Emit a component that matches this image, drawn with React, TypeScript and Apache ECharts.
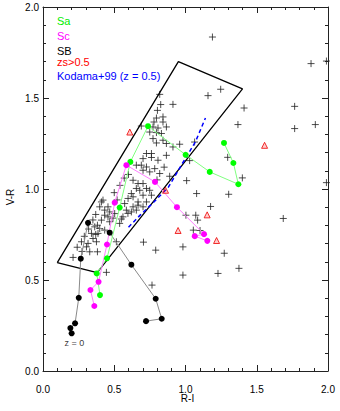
import React, { useEffect, useRef } from "react";
import * as echarts from "echarts";

// Field galaxies (black crosses), [R-I, V-R]
const crosses: [number, number][] = [
  [1.189, 1.835], [1.881, 1.689], [1.989, 1.703], [0.912, 1.465], [1.158, 1.513], [1.247, 1.548],
  [1.411, 1.445], [1.766, 1.454], [1.368, 1.354], [1.766, 1.332], [1.911, 1.354], [1.064, 1.258],
  [1.029, 1.156], [1.296, 1.174], [1.399, 1.061], [1.989, 1.035], [1.078, 0.975], [1.303, 0.971],
  [1.176, 0.904], [1.072, 0.856], [1.003, 0.856], [1.686, 0.838], [1.055, 0.774], [1.102, 0.772],
  [1.085, 0.829], [1.008, 1.046], [0.982, 0.682], [1.272, 0.647], [1.375, 0.564], [0.982, 0.527],
  [1.228, 0.536], [0.791, 0.664], [0.705, 0.708], [0.765, 0.472], [0.445, 0.542], [0.211, 0.624],
  [0.959, 1.246], [0.912, 1.231],
  [0.819, 1.52], [0.826, 1.464], [0.803, 1.432], [0.796, 1.39], [0.842, 1.396], [0.779, 1.368],
  [0.842, 1.368], [0.69, 1.346], [0.772, 1.341], [0.807, 1.335], [0.866, 1.341], [0.749, 1.313],
  [0.796, 1.31], [0.831, 1.305], [0.772, 1.277], [0.842, 1.268], [0.796, 1.253], [0.866, 1.25],
  [0.726, 1.195], [0.761, 1.195], [0.866, 1.185], [0.702, 1.167], [0.761, 1.173], [0.807, 1.158],
  [0.655, 1.131], [0.69, 1.131], [0.726, 1.121], [0.702, 1.103], [0.749, 1.094], [0.784, 1.112],
  [0.819, 1.085], [0.889, 1.07], [0.632, 1.048], [0.667, 1.03], [0.702, 1.03], [0.655, 1.003],
  [0.679, 0.993], [0.62, 0.975], [0.702, 0.966], [0.726, 1.003], [0.749, 0.993], [0.597, 0.948],
  [0.632, 0.957], [0.667, 0.929], [0.726, 0.929], [0.761, 0.966], [0.421, 0.939], [0.398, 0.902],
  [0.456, 0.902], [0.468, 0.874], [0.503, 0.865], [0.561, 0.847], [0.456, 0.847], [0.585, 0.884],
  [0.632, 0.902], [0.62, 0.874], [0.702, 0.902], [0.41, 0.929], [0.573, 0.92], [0.667, 0.911],
  [0.433, 0.884], [0.596, 0.866], [0.655, 0.884], [0.433, 0.856], [0.491, 0.84], [0.55, 0.835],
  [0.41, 0.829], [0.468, 0.82], [0.538, 0.811], [0.363, 0.792], [0.398, 0.783], [0.433, 0.774],
  [0.34, 0.756], [0.386, 0.756], [0.351, 0.728], [0.316, 0.701], [0.375, 0.71], [0.305, 0.682],
  [0.274, 0.657], [0.328, 0.655], [0.382, 0.655], [0.37, 0.75], [0.515, 0.71], [0.382, 0.801],
  [0.24, 0.68], [0.27, 0.71], [0.29, 0.74], [0.32, 0.78], [0.35, 0.83], [0.37, 0.86],
  [0.5, 0.98], [0.54, 1.02], [0.57, 1.06], [0.52, 0.94], [0.6, 1.08], [0.8, 1.05], [0.85, 1.12],
];

const selectionBox: [number, number][] = [
  [0.1, 0.595], [0.95, 1.7], [1.4, 1.55], [0.38, 0.54], [0.1, 0.595],
];

const kodama99: [number, number][] = [
  [0.6, 0.79], [0.68, 0.855], [0.78, 0.93], [0.88, 1.01], [0.97, 1.13], [1.07, 1.26], [1.14, 1.39],
];

const sbTrack: [number, number][] = [
  [0.201, 0.207], [0.192, 0.236], [0.225, 0.262], [0.251, 0.402], [0.265, 0.617], [0.316, 0.814],
  [0.468, 0.76], [0.62, 0.584], [0.791, 0.397], [0.833, 0.287], [0.723, 0.274],
];

const saTrack: [number, number][] = [
  [0.4, 0.417], [0.377, 0.536], [0.449, 0.619], [0.538, 0.898], [0.613, 1.149], [0.737, 1.345],
  [1.001, 1.188], [1.17, 1.094], [1.371, 1.026], [1.336, 1.143], [1.27, 1.253],
];

const scTrack: [number, number][] = [
  [0.36, 0.357], [0.333, 0.445], [0.39, 0.49], [0.449, 0.695], [0.503, 0.925], [0.585, 1.131],
  [0.786, 1.039], [0.94, 0.9], [1.13, 0.752], [1.065, 0.741], [1.153, 0.715],
];

const highZ: [number, number][] = [
  [0.609, 1.313], [1.555, 1.24], [0.86, 0.993], [1.152, 0.858], [0.948, 0.772], [1.218, 0.717],
];

const zLabelPos: [number, number][] = [[0.22, 0.155]];

const legendItems = [
  { text: "Sa", color: "#00ee00", y: 21 },
  { text: "Sc", color: "#ff00ff", y: 36 },
  { text: "SB", color: "#000000", y: 50.5 },
  { text: "zs>0.5", color: "#ff0000", y: 61.5 },
  { text: "Kodama+99 (z = 0.5)", color: "#0000ff", y: 75.5 },
];

const FONT = "Liberation Sans, Arial, Helvetica, sans-serif";

function makeAxis(position: string, showLabel: boolean) {
  return {
    type: "value",
    position,
    min: 0,
    max: 2,
    interval: 0.5,
    axisLine: { show: true, onZero: false, lineStyle: { color: "#222", width: 1 } },
    axisTick: { show: true, inside: true, length: 6, lineStyle: { color: "#222", width: 1 } },
    minorTick: { show: true, splitNumber: 5, length: 3, lineStyle: { color: "#222", width: 1 } },
    splitLine: { show: false },
    minorSplitLine: { show: false },
    axisLabel: {
      show: showLabel,
      formatter: (v: number) => v.toFixed(1),
      fontSize: 10,
      color: "#000",
      fontFamily: FONT,
      margin: position === "bottom" ? 13 : 4,
    },
  };
}

export default function App() {
  const ref = useRef<HTMLDivElement>(null);
  useEffect(() => {
    if (!ref.current) return;
    const chart = echarts.init(ref.current, undefined, { renderer: "svg" });
    const option: any = {
      animation: false,
      backgroundColor: "#fff",
      grid: { left: 43, right: 12, top: 7, bottom: 40 },
      xAxis: [makeAxis("bottom", true), makeAxis("top", false)],
      yAxis: [makeAxis("left", true), makeAxis("right", false)],
      graphic: [
        ...legendItems.map((it) => ({
          type: "text",
          style: {
            x: 57,
            y: it.y,
            text: it.text,
            fill: it.color,
            font: `11px ${FONT}`,
            verticalAlign: "middle",
          },
        })),
        {
          type: "text",
          style: { x: 187.5, y: 398.5, text: "R-I", fill: "#000", font: `10px ${FONT}`, align: "center", verticalAlign: "middle" },
        },
        {
          type: "text",
          x: 10,
          y: 197,
          rotation: Math.PI / 2,
          style: { x: 0, y: 0, text: "V-R", fill: "#000", font: `10px ${FONT}`, align: "center", verticalAlign: "middle" },
        },
      ],
      series: [
        {
          type: "scatter",
          data: crosses,
          symbol: "path://M0,5L10,5M5,0L5,10",
          symbolSize: 7,
          itemStyle: { color: "rgba(0,0,0,0)", borderColor: "#222", borderWidth: 1 },
          z: 2,
        },
        {
          type: "line",
          data: selectionBox,
          symbol: "none",
          lineStyle: { color: "#000", width: 1.3 },
          z: 3,
        },
        {
          type: "line",
          data: kodama99,
          symbol: "none",
          smooth: false,
          lineStyle: { color: "#0000ff", width: 1.5, type: [4, 3] },
          z: 4,
        },
        {
          type: "line",
          data: sbTrack,
          symbol: "circle",
          symbolSize: 6,
          itemStyle: { color: "#000" },
          lineStyle: { color: "#8a8a8a", width: 1 },
          z: 5,
        },
        {
          type: "line",
          data: saTrack,
          symbol: "circle",
          symbolSize: 6,
          itemStyle: { color: "#00ff00" },
          lineStyle: { color: "#80ff80", width: 1 },
          z: 5,
        },
        {
          type: "line",
          data: scTrack,
          symbol: "circle",
          symbolSize: 6,
          itemStyle: { color: "#ff00ff" },
          lineStyle: { color: "#ff80ff", width: 1 },
          z: 5,
        },
        {
          type: "scatter",
          data: highZ,
          symbol: "triangle",
          symbolSize: 6,
          itemStyle: { color: "rgba(255,0,0,0.25)", borderColor: "#ee0000", borderWidth: 1 },
          z: 6,
        },
        {
          type: "scatter",
          data: zLabelPos,
          symbolSize: 1,
          itemStyle: { color: "rgba(0,0,0,0)" },
          label: { show: true, position: "inside", formatter: "z = 0", fontSize: 9, color: "#000", fontFamily: FONT },
          z: 6,
        },
      ],
    };
    chart.setOption(option);
    return () => chart.dispose();
  }, []);
  return <div ref={ref} style={{ width: 340, height: 411, position: "absolute", left: 0, top: 0 }} />;
}
